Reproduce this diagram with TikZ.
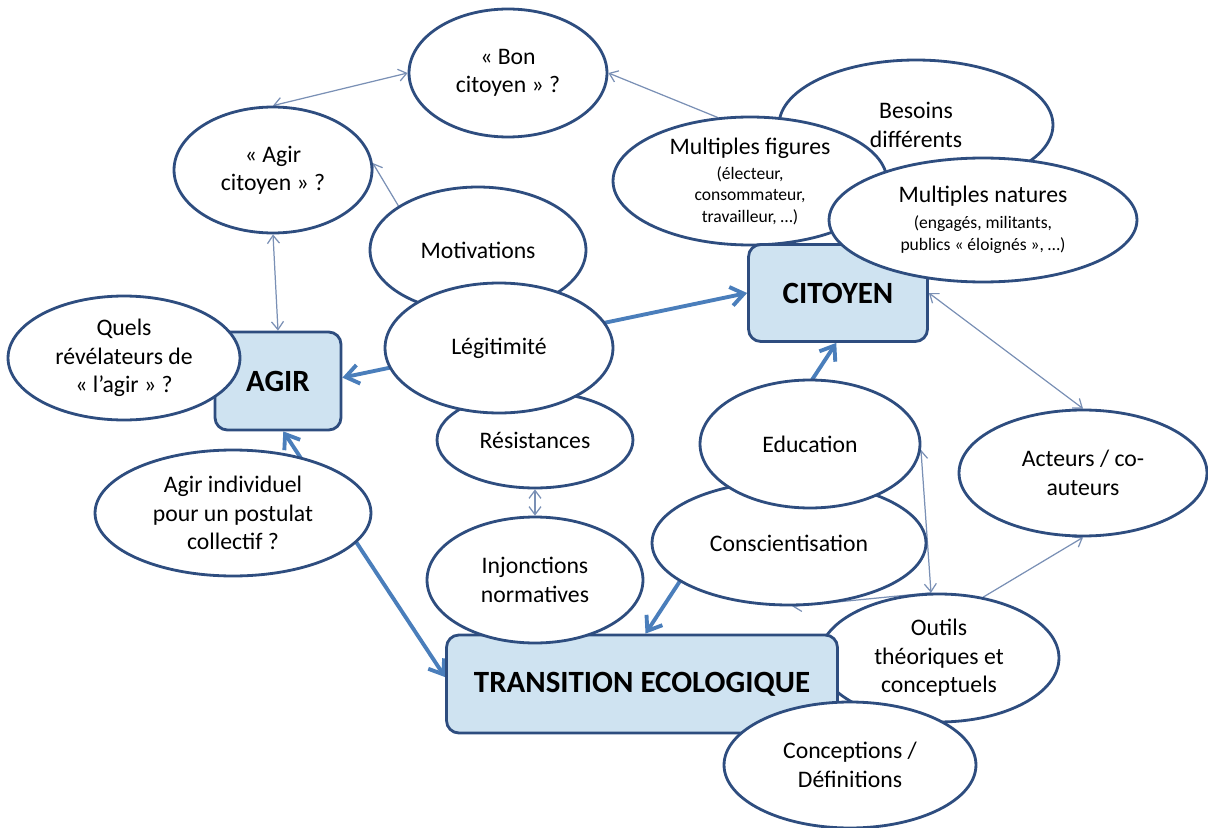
\documentclass[tikz,border=0pt]{standalone}
\usepackage{fontspec}
\setmainfont{Carlito}
\usetikzlibrary{shapes.geometric,arrows.meta}
\definecolor{rim}{HTML}{2E4D7F}
\definecolor{boxfill}{HTML}{CFE3F1}
\definecolor{flow}{HTML}{4A7EBB}
\definecolor{link}{HTML}{7A90B5}
\pgfdeclarelayer{back}
\pgfsetlayers{back,main}
\newcommand{\bigtxt}{\fontsize{13.5}{16.2}\selectfont}
\newcommand{\smalltxt}{\fontsize{10}{12}\selectfont}

\begin{document}
\begin{tikzpicture}[x=0.02cm, y=-0.02cm,
      bubble/.style={ellipse, draw=rim, line width=1.6pt, fill=white, inner sep=0pt, align=center, font=\bigtxt},
      keybox/.style={draw=rim, line width=1.6pt, fill=boxfill, rounded corners=7pt, inner sep=0pt,
                     font=\fontsize{17.6}{20}\selectfont\bfseries},
      arr/.style={{Straight Barb[length=2.6mm,width=3.8mm]}-{Straight Barb[length=2.6mm,width=3.8mm]}, flow, line width=2.2pt},
      fine/.style={-{Straight Barb[length=1.6mm,width=2.4mm]}, link, line width=0.7pt},
      finetwo/.style={{Straight Barb[length=1.6mm,width=2.4mm]}-{Straight Barb[length=1.6mm,width=2.4mm]}, link, line width=0.7pt}]
    \useasboundingbox (0,0) rectangle (1208,828);
    % upper left
    \node[bubble, minimum width=3.96cm, minimum height=2.56cm] (bon) at (508,73) {«~Bon\\citoyen~»~?};
    \node[bubble, minimum width=3.96cm, minimum height=2.52cm] (agirc) at (273,170) {«~Agir\\citoyen~»~?};
    % citoyen cluster
    \node[bubble, minimum width=5.48cm, minimum height=2.60cm] (besoins) at (916,125) {Besoins\\différents};
    \node[bubble, minimum width=5.48cm, minimum height=2.56cm] (mfig) at (750,181)
      {Multiples figures\\[-1.5pt]{\smalltxt (électeur,}\\[-4.2pt]{\smalltxt consommateur,}\\[-4.2pt]{\smalltxt travailleur, …)}};
    \node[keybox, minimum width=3.58cm, minimum height=1.94cm] (citoyen) at (838,293) {CITOYEN};
    \node[bubble, minimum width=6.16cm, minimum height=2.48cm] (mnat) at (983,220)
      {Multiples natures\\[-1.5pt]{\smalltxt (engagés, militants,}\\[-3.5pt]{\smalltxt publics «~éloignés~», …)}};
    % middle column
    \node[bubble, minimum width=4.32cm, minimum height=2.52cm] (motiv) at (478,250) {Motivations};
    \node[bubble, minimum width=3.92cm, minimum height=1.92cm] (resist) at (535,440) {Résistances};
    \node[bubble, minimum width=4.56cm, minimum height=2.60cm] (legit) at (499,348) {Légitimité};
    % agir side
    \node[keybox, minimum width=2.52cm, minimum height=1.96cm] (agir) at (278,381) {AGIR};
    \node[bubble, minimum width=4.64cm, minimum height=2.48cm] (quels) at (124,358) {Quels\\révélateurs de\\«~l’agir~»~?};
    \node[bubble, minimum width=5.52cm, minimum height=2.52cm] (agirind) at (233,513) {Agir individuel\\pour un postulat\\collectif~?};
    % right side
    \node[bubble, minimum width=4.96cm, minimum height=2.52cm] (acteurs) at (1083,473) {Acteurs / co-\\auteurs};
    \node[bubble, minimum width=5.48cm, minimum height=2.48cm] (consc) at (789,543) {Conscientisation};
    \node[bubble, minimum width=4.40cm, minimum height=2.56cm] (educ) at (810,444) {Education};
    \node[bubble, minimum width=4.80cm, minimum height=2.56cm] (outils) at (939,658) {Outils\\théoriques et\\conceptuels};
    % transition
    \node[keybox, minimum width=7.82cm, minimum height=1.96cm] (transition) at (642,684) {TRANSITION ECOLOGIQUE};
    \node[bubble, minimum width=4.32cm, minimum height=2.52cm] (injonc) at (535,580) {Injonctions\\normatives};
    \node[bubble, minimum width=5.04cm, minimum height=2.52cm] (concep) at (850,765) {Conceptions /\\Définitions};
    % links behind the bubbles
    \begin{pgfonlayer}{back}
      \draw[arr] (agir.3) -- (citoyen.west);
      \draw[arr] (agir.-84) -- (transition.178);
      \draw[arr] (transition.86) -- (citoyen.-92);
      \draw[finetwo] (agirc.south) -- (agir.north);
      \draw[finetwo] (agirc.north) -- (bon.west);
      \draw[fine] (motiv.151) -- (agirc.4);
      \draw[fine] (mfig.117) -- (bon.east);
      \draw[finetwo] (citoyen.east) -- (acteurs.north);
      \draw[finetwo] (resist.south) -- (injonc.north);
      \draw[finetwo] (educ.-3) -- (outils.97);
      \draw[fine] (outils.97) -- (consc.-87);
      \draw[fine] (outils.54) -- (acteurs.south);
    \end{pgfonlayer}
  \end{tikzpicture}
\end{document}
